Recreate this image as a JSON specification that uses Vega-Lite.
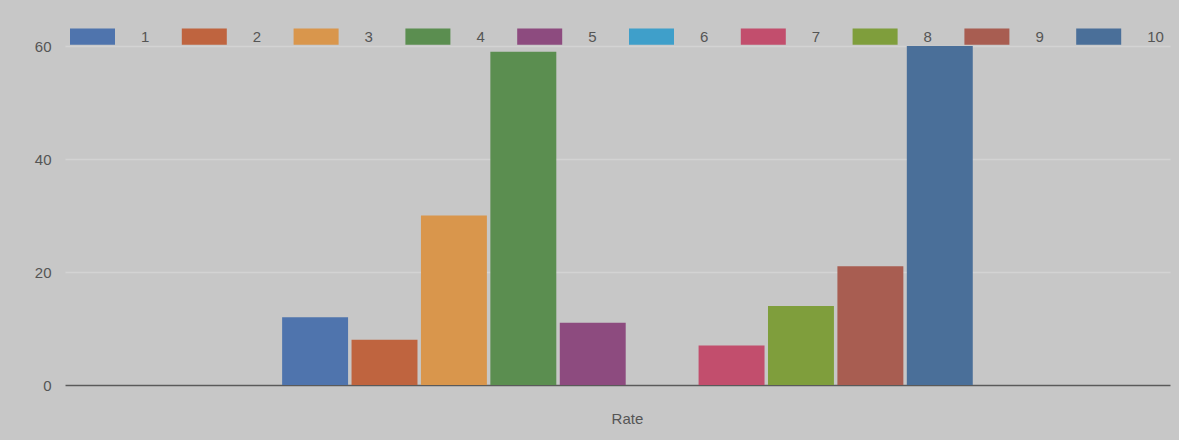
{
  "$schema": "https://vega.github.io/schema/vega-lite/v6.json",
  "autosize": {"type": "none"},
  "width": 1105,
  "height": 339,
  "padding": {"left": 65, "top": 46, "right": 9, "bottom": 55},
  "background": "#c7c7c7",
  "config": {
    "view": {"stroke": null},
    "font": "Liberation Sans",
    "axis": {"labelFont": "Liberation Sans", "labelColor": "#555555", "labelFontSize": 15}
  },
  "data": {
    "values": [
      {"category": "Rate", "series": "1", "value": 12},
      {"category": "Rate", "series": "2", "value": 8},
      {"category": "Rate", "series": "3", "value": 30},
      {"category": "Rate", "series": "4", "value": 59},
      {"category": "Rate", "series": "5", "value": 11},
      {"category": "Rate", "series": "6", "value": 0},
      {"category": "Rate", "series": "7", "value": 7},
      {"category": "Rate", "series": "8", "value": 14},
      {"category": "Rate", "series": "9", "value": 21},
      {"category": "Rate", "series": "10", "value": 60}
    ]
  },
  "mark": {"type": "bar"},
  "encoding": {
    "x": {
      "field": "category",
      "type": "nominal",
      "scale": {"paddingInner": 0, "paddingOuter": 0.3, "align": 0.524},
      "axis": {
        "title": null,
        "labelAngle": 0,
        "ticks": false,
        "domain": true,
        "domainColor": "#5a5a5a",
        "domainWidth": 1.5,
        "labelPadding": 26,
        "grid": false
      }
    },
    "xOffset": {
      "field": "series",
      "type": "nominal",
      "sort": ["1", "2", "3", "4", "5", "6", "7", "8", "9", "10"],
      "scale": {"paddingInner": 0.05, "paddingOuter": 0}
    },
    "y": {
      "field": "value",
      "type": "quantitative",
      "scale": {"domain": [0, 60], "nice": false},
      "axis": {
        "title": null,
        "values": [0, 20, 40, 60],
        "domain": false,
        "ticks": false,
        "labelPadding": 14,
        "gridColor": "#d3d3d3",
        "gridWidth": 1.5
      }
    },
    "color": {
      "field": "series",
      "type": "nominal",
      "sort": ["1", "2", "3", "4", "5", "6", "7", "8", "9", "10"],
      "scale": {
        "domain": ["1", "2", "3", "4", "5", "6", "7", "8", "9", "10"],
        "range": ["#4f74ad", "#bf643f", "#d9964c", "#5b8e50", "#8d4b7f", "#3f9fca", "#c24e6d", "#7f9e3c", "#a85d51", "#4a6f99"]
      },
      "legend": {
        "title": null,
        "orient": "none",
        "legendX": 5,
        "legendY": -32,
        "direction": "horizontal",
        "columns": 10,
        "symbolType": "M-1,-0.36H1V0.36H-1Z",
        "symbolSize": 2025,
        "symbolStrokeWidth": 0,
        "symbolOpacity": 1,
        "labelOffset": 26,
        "columnPadding": 31.8,
        "labelFont": "Liberation Sans",
        "labelFontSize": 15,
        "labelColor": "#555555"
      }
    }
  }
}
